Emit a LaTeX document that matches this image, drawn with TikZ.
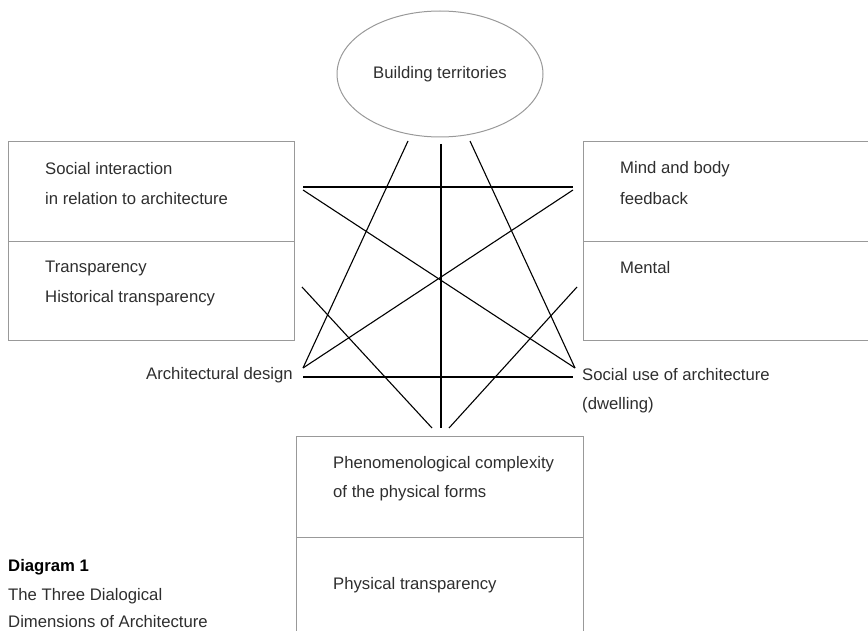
\documentclass[tikz,border=0pt]{standalone}
\usepackage{fontspec}
\setmainfont{Liberation Sans}
\usetikzlibrary{shapes.geometric}
\begin{document}
\begin{tikzpicture}[x=1pt,y=-1pt,
  txt/.style={font=\fontsize{16.7}{19}\selectfont, text=black!82, inner sep=0pt},
  boxline/.style={draw=black!40, line width=1pt},
  link/.style={draw=black, line width=1.1pt}]
\useasboundingbox (0,0) rectangle (868,631);
\clip (0,0) rectangle (868,631);
% ellipse
\node[ellipse, boxline, minimum width=206pt, minimum height=126pt, inner sep=0pt, txt] (bt) at (440,74) {Building territories};
% left box
\draw[boxline] (8,142) rectangle (294,340);
\draw[boxline] (8,242) -- (294,242);
\node[txt, anchor=west] (si1) at (45,169) {Social interaction};
\node[txt, anchor=west] (si2) at (45,199) {in relation to architecture};
\node[txt, anchor=west] (tr1) at (45,268) {Transparency};
\node[txt, anchor=west] (tr2) at (45,298) {Historical transparency};
% right box
\draw[boxline] (870,142) -- (583,142) -- (583,340) -- (870,340);
\draw[boxline] (583,242) -- (870,242);
\node[txt, anchor=west] (mb1) at (620,169) {Mind and body};
\node[txt, anchor=west] (mb2) at (620,199) {feedback};
\node[txt, anchor=west] (me) at (620,268) {Mental};
% bottom box
\draw[boxline] (296,640) -- (296,436) -- (583,436) -- (583,640);
\draw[boxline] (296,537) -- (583,537);
\node[txt, anchor=west] (ph1) at (333,464) {Phenomenological complexity};
\node[txt, anchor=west] (ph2) at (333,493) {of the physical forms};
\node[txt, anchor=west] (pt) at (333,585) {Physical transparency};
% side labels
\node[txt, anchor=east] (ad) at (293,375) {Architectural design};
\node[txt, anchor=west] (su1) at (582,375) {Social use of architecture};
\node[txt, anchor=west] (su2) at (582,405) {(dwelling)};
% caption
\node[txt, anchor=west, font=\fontsize{16.7}{19}\selectfont\bfseries, text=black] (d1) at (8,567) {Diagram 1};
\node[txt, anchor=west] (d2) at (8,596) {The Three Dialogical};
\node[txt, anchor=west] (d3) at (8,622) {Dimensions of Architecture};
% connector end points
\coordinate (t1) at (408,141);
\coordinate (t2) at (441,144);
\coordinate (t3) at (470,141);
\coordinate (adp) at (303,368);
\coordinate (adh) at (303,377);
\coordinate (sup) at (575,368);
\coordinate (suh) at (573,377);
\coordinate (hl) at (303,187);
\coordinate (hr) at (573,187);
\coordinate (dl) at (303,190);
\coordinate (dr) at (573,190);
\coordinate (ll) at (302,287);
\coordinate (lr) at (577,287);
\coordinate (b1) at (432,428);
\coordinate (b2) at (441,428);
\coordinate (b3) at (449,428);
% star
\draw[link] (t1) -- (adp);
\draw[link] (t2) -- (b2);
\draw[link] (t3) -- (sup);
\draw[link] (hl) -- (hr);
\draw[link] (dl) -- (sup);
\draw[link] (dr) -- (adp);
\draw[link] (adh) -- (suh);
\draw[link] (ll) -- (b1);
\draw[link] (lr) -- (b3);
\end{tikzpicture}
\end{document}
